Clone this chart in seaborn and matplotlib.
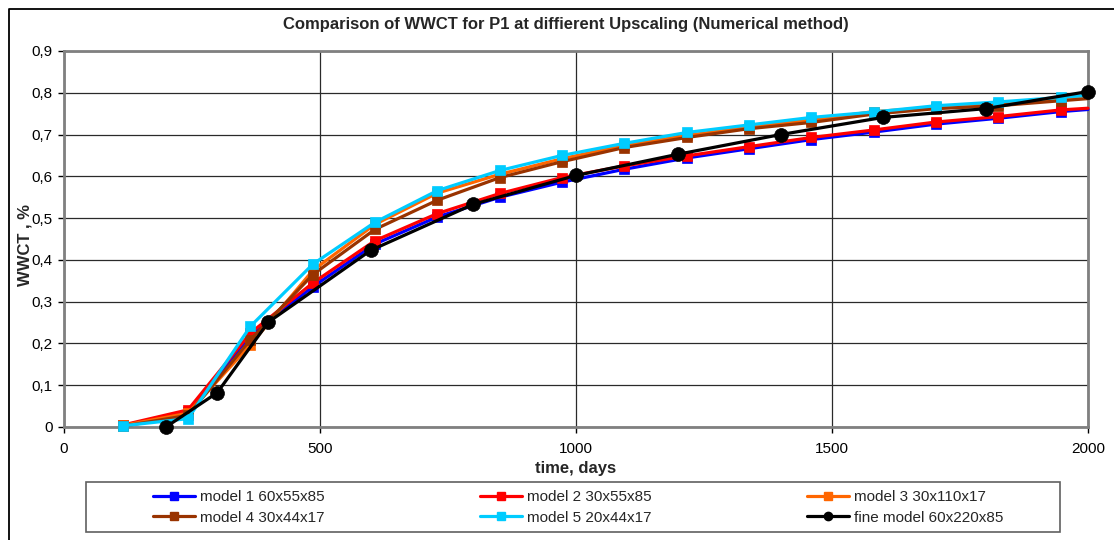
import matplotlib
matplotlib.use("Agg")
import matplotlib.pyplot as plt
import seaborn as sns
from matplotlib.lines import Line2D
from matplotlib.patches import Rectangle
from matplotlib.ticker import FuncFormatter

# Report times (days) of the upscaled models
days = [117, 243, 365, 487, 608, 730, 852, 973, 1095, 1217, 1338, 1460,
        1582, 1703, 1825, 1947, 2000]

model1 = [0.004, 0.035, 0.220, 0.336, 0.438, 0.503, 0.550, 0.586, 0.617,
          0.644, 0.666, 0.688, 0.706, 0.725, 0.739, 0.755, 0.760]
model2 = [0.005, 0.041, 0.225, 0.345, 0.446, 0.511, 0.559, 0.597, 0.625,
          0.649, 0.671, 0.693, 0.711, 0.730, 0.743, 0.759, 0.763]
model3 = [0.004, 0.033, 0.197, 0.375, 0.485, 0.560, 0.605, 0.642, 0.674,
          0.698, 0.718, 0.735, 0.755, 0.765, 0.772, 0.784, 0.790]
model4 = [0.002, 0.028, 0.209, 0.365, 0.473, 0.543, 0.597, 0.635, 0.669,
          0.693, 0.714, 0.729, 0.749, 0.762, 0.769, 0.781, 0.786]
model5 = [0.003, 0.020, 0.241, 0.390, 0.490, 0.566, 0.614, 0.650, 0.679,
          0.705, 0.723, 0.741, 0.754, 0.769, 0.778, 0.789, 0.794]

# Fine-grid reference model
fine_days = [200, 300, 400, 600, 800, 1000, 1200, 1400, 1600, 1800, 2000]
fine = [0.000, 0.082, 0.251, 0.423, 0.533, 0.602, 0.653, 0.700, 0.741,
        0.762, 0.803]

labels = ["model 1 60x55x85", "model 2 30x55x85", "model 3 30x110x17",
          "model 4 30x44x17", "model 5 20x44x17", "fine model 60x220x85"]
colors = ["#0000FF", "#FF0000", "#FF6600", "#993300", "#00CCFF", "#000000"]

x_ticks = [0, 500, 1000, 1500, 2000]
y_ticks = [0, 0.1, 0.2, 0.3, 0.4, 0.5, 0.6, 0.7, 0.8, 0.9]

sns.set_theme(style="white")
plt.rcParams["font.family"] = ["Liberation Sans", "DejaVu Sans"]

W, H = 1114, 540
fig = plt.figure(figsize=(W / 100, H / 100), dpi=100)
ax = fig.add_axes([63.5 / W, 1 - 427 / H, (1088 - 63.5) / W, (427 - 51) / H])

series = [model1, model2, model3, model4, model5]
for vals, color in zip(series, colors[:5]):
    sns.lineplot(x=days, y=vals, ax=ax, color=color, lw=2.3, marker="s",
                 markersize=7.5, markeredgecolor=color, markeredgewidth=0.5,
                 markevery=slice(0, len(days) - 1), clip_on=False,
                 errorbar=None, sort=False, legend=False, zorder=3)

sns.lineplot(x=fine_days, y=fine, ax=ax, color=colors[5], lw=2.3, marker="o",
             markersize=10, markeredgecolor=colors[5], markeredgewidth=0.5,
             clip_on=False, errorbar=None, sort=False, legend=False, zorder=4)

ax.set_xlim(x_ticks[0], x_ticks[-1])
ax.set_ylim(y_ticks[0], y_ticks[-1])
ax.set_xticks(x_ticks)
ax.set_yticks(y_ticks)
ax.yaxis.set_major_formatter(
    FuncFormatter(lambda v, p: ("%g" % round(v, 1)).replace(".", ",")))
ax.set_xlabel("")
ax.set_ylabel("")

ax.set_axisbelow(True)
ax.grid(True, color="#2a2a2a", lw=0.9)
for sp in ax.spines.values():
    sp.set_color("#808080")
    sp.set_linewidth(2)
ax.tick_params(axis="both", direction="out", length=4, width=1,
               color="black", labelsize=11, labelcolor="black")
ax.tick_params(axis="y", pad=4, left=True)
ax.tick_params(axis="x", pad=7, bottom=True)

fig.text(566 / W, 1 - 25 / H,
         "Comparison of WWCT for P1 at diffierent Upscaling (Numerical method)",
         ha="center", va="center", fontsize=12, fontweight="bold")
fig.text(576 / W, 1 - 468 / H, "time, days", ha="center", va="center",
         fontsize=12, fontweight="bold")
fig.text(25 / W, 1 - 245 / H, "WWCT , %", ha="center", va="center",
         rotation=90, fontsize=12, fontweight="bold")

# Legend: three columns, filled row by row
handles = []
for i, (c, lab) in enumerate(zip(colors, labels)):
    handles.append(Line2D([], [], color=c, lw=2.3,
                          marker="o" if i == 5 else "s",
                          markersize=6, markeredgecolor=c, label=lab))
order = [0, 3, 1, 4, 2, 5]
fig.legend(handles=[handles[i] for i in order], ncol=3, loc="center left",
           bbox_to_anchor=(153 / W, 1 - 507.5 / H), frameon=False, fontsize=11,
           handlelength=2.75, handletextpad=0.3, columnspacing=10.2,
           borderpad=0, borderaxespad=0, labelspacing=0.4)
fig.add_artist(Rectangle((86 / W, 1 - 532 / H), (1060 - 86) / W, 50 / H,
                         transform=fig.transFigure, fill=False,
                         ec="#606060", lw=1.2))

# Outer chart frame
fig.add_artist(Line2D([8.7 / W, 8.7 / W, 1.0], [0.0, 1 - 9.3 / H, 1 - 9.3 / H],
                      transform=fig.transFigure, color="black", lw=1.3))

fig.savefig("out.png", dpi=100)
